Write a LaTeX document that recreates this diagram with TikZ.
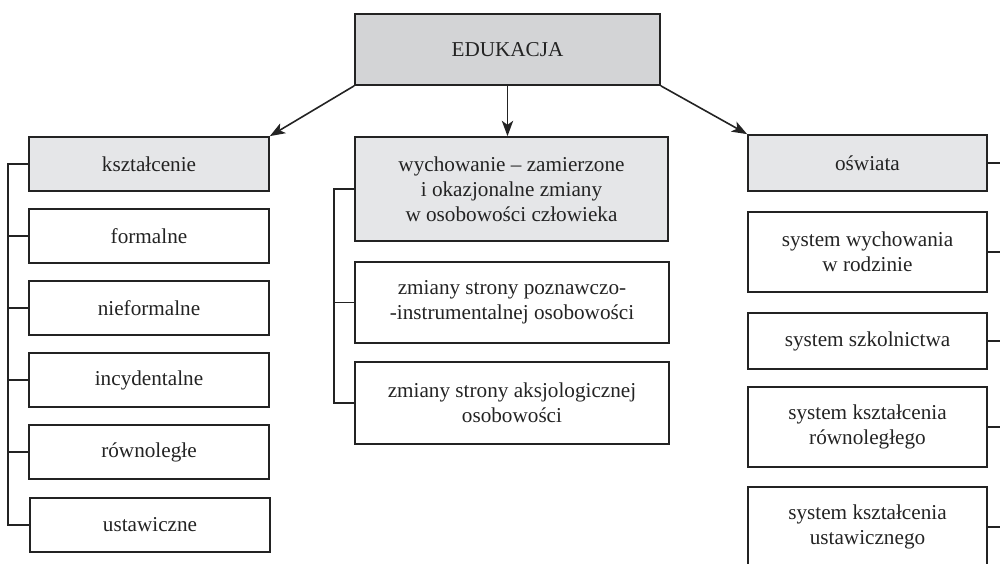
\documentclass[tikz,border=0pt]{standalone}
\usepackage{fontspec}
\setmainfont{Liberation Serif}
\usetikzlibrary{arrows.meta}
\definecolor{hdgray}{RGB}{211,212,214}
\definecolor{ltgray}{RGB}{229,230,232}
\definecolor{ink}{RGB}{35,35,35}
\def\px{0.75pt}
\tikzset{
  box/.style={draw=ink, line width=1.3pt, align=center, inner sep=0pt,
    font=\fontsize{15.9pt}{18.8pt}\selectfont, text=ink},
  bw/.style={minimum width=#1*\px},
  bh/.style={minimum height=#1*\px},
  link/.style={draw=ink, line width=1.2pt},
  arr/.style={link, -{Stealth[length=11.5pt,width=8.5pt,inset=3pt]}}
}
\begin{document}
\begin{tikzpicture}[x=0.75pt,y=-0.75pt]
\clip (0,0) rectangle (1000,564);
\useasboundingbox (0,0) rectangle (1000,564);
% top
\node[box, fill=hdgray, bw=305, bh=71] (edu) at (507.5,49.5) {EDUKACJA};
% left column
\node[box, fill=ltgray, bw=240, bh=54] (ksz) at (149,164) {kształcenie};
\node[box, bw=240, bh=54] (form) at (149,236) {formalne};
\node[box, bw=240, bh=54] (nief) at (149,308) {nieformalne};
\node[box, bw=240, bh=54] (incy) at (149,380) {incydentalne};
\node[box, bw=240, bh=54] (rown) at (149,452) {równoległe};
\node[box, bw=240, bh=54] (ustl) at (150,525) {ustawiczne};
% middle column
\node[box, fill=ltgray, bw=313, bh=104] (wych) at (511.5,189) {wychowanie -- zamierzone\\i okazjonalne zmiany\\w osobowości człowieka};
\node[box, bw=314, bh=81] (pozn) at (512,302.5) {zmiany strony poznawczo-\\-instrumentalnej osobowości};
\node[box, bw=314, bh=82] (aksj) at (512,403) {zmiany strony aksjologicznej\\osobowości};
% right column
\node[box, fill=ltgray, bw=239, bh=56] (osw) at (867.5,163) {oświata};
\node[box, bw=239, bh=80] (rodz) at (867.5,252) {system wychowania\\w rodzinie};
\node[box, bw=239, bh=56] (szk) at (867.5,341) {system szkolnictwa};
\node[box, bw=239, bh=80] (krow) at (867.5,427) {system kształcenia\\równoległego};
\node[box, bw=239, bh=80] (kust) at (867.5,527) {system kształcenia\\ustawicznego};
% arrows
\draw[arr] (edu.south west) -- (ksz.north east);
\draw[arr] (edu.south) -- (edu.south |- wych.north);
\draw[arr] (edu.south east) -- (osw.north west);
% left bracket
\coordinate (lt) at (8,164);
\coordinate (lb) at (8,525);
\draw[link] (ksz.west) -- (lt) -- (lb) -- (ustl.west);
\foreach \n in {form,nief,incy,rown} \draw[link] (\n.west) -- (8,0 |- \n.west);
% middle bracket
\coordinate (mt) at (334,189);
\coordinate (mb) at (334,403);
\draw[link] (wych.west) -- (mt) -- (mb) -- (aksj.west);
\draw[link] (pozn.west) -- (334,0 |- pozn.west);
% right stubs (bus beyond the right edge)
\foreach \n in {osw,rodz,szk,krow,kust} \draw[link] (\n.east) -- (1003,0 |- \n.east);
\end{tikzpicture}
\end{document}
